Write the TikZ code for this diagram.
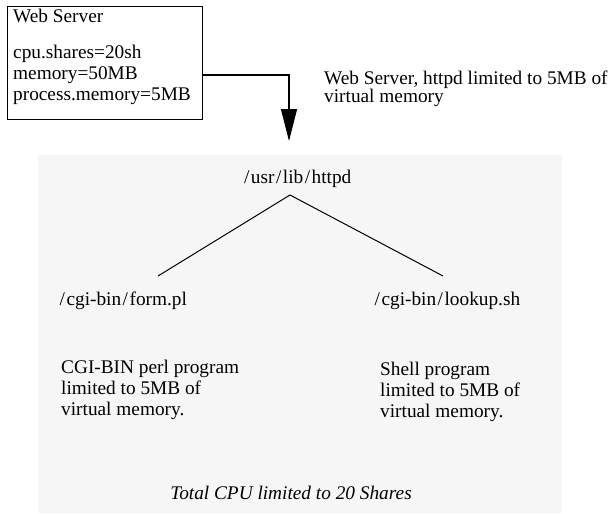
\documentclass[tikz,border=0pt]{standalone}
\usepackage{fontspec}
\setmainfont{Liberation Serif}
\usetikzlibrary{arrows.meta}
\definecolor{panel}{HTML}{F6F6F6}
\newcommand{\slsh}{\kern1.5pt/\kern1.5pt}
\tikzset{
  txt/.style={anchor=base west, inner sep=0pt, font=\fontsize{19.3}{22}\selectfont},
  ctxt/.style={anchor=base, inner sep=0pt, font=\fontsize{19.3}{22}\selectfont},
  conn/.style={line width=1.2pt, draw=black},
  branch/.style={line width=1pt, draw=black},
}
\begin{document}
\begin{tikzpicture}[x=1pt,y=-1pt]
\useasboundingbox (0,0) rectangle (608,514);
% gray panel
\fill[panel] (38,155) rectangle (562,513);
% web server box
\node[draw, line width=1.2pt, minimum width=195pt, minimum height=113pt, anchor=north west, inner sep=0pt] (ws) at (7,6) {};
\node[txt] (wstitle) at (13,23) {Web Server};
\node[txt] (l1) at (13,58) {cpu.shares=20sh};
\node[txt] (l2) at (13,79) {memory=50MB};
\node[txt] (l3) at (13,100) {process.memory=5MB};
% connector
\coordinate (out) at (202,75);
\coordinate (bend) at (289,75);
\coordinate (tip) at (289,141);
\draw[conn, -{Triangle[width=16pt,length=32pt]}] (out) -- (bend) -- (tip);
% label
\node[txt] (lab1) at (324,84) {Web Server, httpd limited to 5MB of};
\node[txt] (lab2) at (324,102) {virtual memory};
% tree
\node[ctxt] (root) at (297,183) {\slsh usr\slsh lib\slsh httpd};
\coordinate (apex) at (290,195);
\coordinate (lend) at (158,276);
\coordinate (rend) at (443,276);
\draw[branch] (lend) -- (apex) -- (rend);
\node[txt] (form) at (58,305) {\slsh cgi-bin\slsh form.pl};
\node[txt] (lookup) at (373,305) {\slsh cgi-bin\slsh lookup.sh};
\node[txt] (c1) at (61,373) {CGI-BIN perl program};
\node[txt] (c2) at (61,394) {limited to 5MB of};
\node[txt] (c3) at (61,415) {virtual memory.};
\node[txt] (s1) at (380,375) {Shell program};
\node[txt] (s2) at (380,396) {limited to 5MB of};
\node[txt] (s3) at (380,417) {virtual memory.};
\node[ctxt, font=\fontsize{19.3}{22}\selectfont\itshape] (total) at (291,499) {Total CPU limited to 20 Shares};
\end{tikzpicture}
\end{document}
